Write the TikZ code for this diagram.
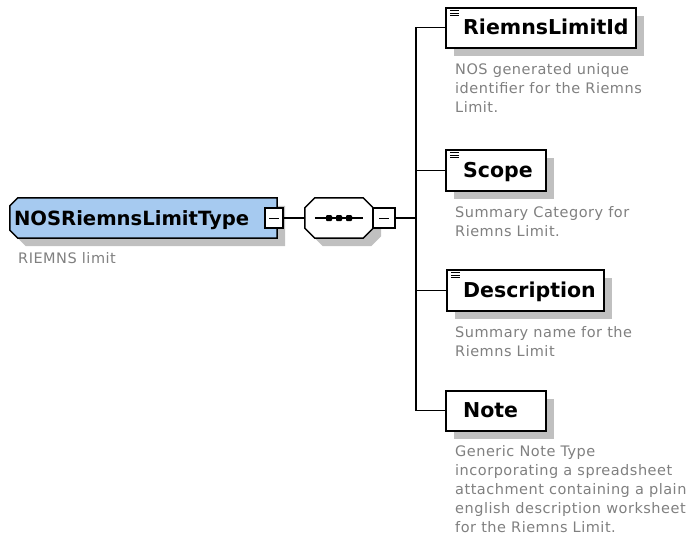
\documentclass[tikz,border=0pt]{standalone}
\usepackage{fontspec}
\setmainfont{DejaVu Sans}
\newfontfamily\descfont[LetterSpace=3.5]{DejaVu Sans}
\usetikzlibrary{shadows}
\definecolor{typeblue}{RGB}{166,202,240}
\definecolor{shadowgray}{RGB}{192,192,192}
\definecolor{descgray}{RGB}{128,128,128}
\begin{document}
\begin{tikzpicture}[x=1pt,y=-1pt,
  shadowed/.style={drop shadow={shadow xshift=8pt,shadow yshift=-8pt,fill=shadowgray,opacity=1}},
  frame/.style={draw=none,fill=none,rectangle,inner sep=0pt},
  elembox/.style={draw=black,line width=1.5pt,fill=white,rectangle,inner sep=0pt,minimum height=40pt,shadowed},
  shapeline/.style={draw=black,line width=1.5pt},
  minusbox/.style={draw=black,line width=1.3pt,fill=white,rectangle,inner sep=0pt,minimum width=18pt,minimum height=20pt},
  conn/.style={draw=black,line width=1.1pt},
  label/.style={inner sep=0pt,font=\fontsize{20.5}{24}\selectfont\bfseries},
  desc/.style={inner sep=0pt,align=left,text=descgray,font=\descfont\fontsize{14.5}{19}\selectfont},
  icon/.style={draw=black,line width=1pt},
  seqdot/.style={fill=black,rounded corners=1pt}
]
\fill[white] (0,0) rectangle (697,555);
\useasboundingbox (0,0) rectangle (697,555);

% complex type
\node[frame,minimum width=267pt,minimum height=40pt] (type) at (143.5,218) {};
\filldraw[shapeline,fill=typeblue,shadowed]
  (type.north east) -- (type.south east) -- ([xshift=8pt]type.south west)
  -- ([yshift=8pt]type.south west) -- ([yshift=-8pt]type.north west)
  -- ([xshift=8pt]type.north west) -- cycle;
\node[label,font=\fontsize{19.6}{24}\selectfont\bfseries,anchor=base west] (typet) at ([xshift=4pt,yshift=-7pt]type.west) {NOSRiemnsLimitType};
\node[minusbox] (tminus) at (274,218) {};
\draw[line width=1pt] ([xshift=-5pt]tminus.center) -- ([xshift=5pt]tminus.center);
\node[desc,anchor=north west] (typed) at (18,252) {RIEMNS limit};

% sequence compositor
\node[frame,minimum width=68pt,minimum height=40pt] (comp) at (339,218) {};
\filldraw[shapeline,fill=white,shadowed]
  ([xshift=10pt]comp.north west) -- ([xshift=-10pt]comp.north east)
  -- ([yshift=-10pt]comp.north east) -- ([yshift=10pt]comp.south east)
  -- ([xshift=-10pt]comp.south east) -- ([xshift=10pt]comp.south west)
  -- ([yshift=10pt]comp.south west) -- ([yshift=-10pt]comp.north west) -- cycle;
\draw[line width=1.1pt] ([xshift=10pt]comp.west) -- ([xshift=-10pt]comp.east);
\foreach \dx in {-10,0,10}
  \path[seqdot] ([shift={(\dx-3,-3)}]comp.center) rectangle ++(6,6);
\node[minusbox,minimum width=22pt] (cminus) at (384,218) {};
\draw[line width=1pt] ([xshift=-5pt]cminus.center) -- ([xshift=5pt]cminus.center);

\coordinate (bus) at (416,218);

% child elements
\node[elembox,minimum width=190pt,anchor=north west] (rl) at (445,7) {};
\node[elembox,minimum width=100pt,minimum height=41pt,anchor=north west] (scope) at (445,149) {};
\node[elembox,minimum width=157pt,minimum height=41pt,anchor=north west] (desc) at (446,269) {};
\node[elembox,minimum width=100pt,anchor=north west] (note) at (445,390) {};

\node[label,anchor=base west] (rlt) at ([xshift=18pt,yshift=-7pt]rl.west) {RiemnsLimitId};
\node[label,anchor=base west] (scopet) at ([xshift=18pt,yshift=-7pt]scope.west) {Scope};
\node[label,anchor=base west] (desct) at ([xshift=17pt,yshift=-7pt]desc.west) {Description};
\node[label,anchor=base west] (notet) at ([xshift=18pt,yshift=-7pt]note.west) {Note};

\foreach \b in {rl,scope,desc}
  \foreach \k in {0,1,2}
    \draw[icon] ([shift={(5,{3.5+2.5*\k})}]\b.north west) -- ++(9,0);

\node[desc,anchor=north west] (rld) at (455,63) {NOS generated unique\\identifier for the Riemns\\Limit.};
\node[desc,anchor=north west] (scoped) at (455,206) {Summary Category for\\Riemns Limit.};
\node[desc,anchor=north west] (descd) at (455,326) {Summary name for the\\Riemns Limit};
\node[desc,anchor=north west] (noted) at (455,445) {Generic Note Type\\incorporating a spreadsheet\\attachment containing a plain\\english description worksheet\\for the Riemns Limit.};

% connectors
\draw[conn] (tminus.east) -- (comp.west);
\draw[conn] (cminus.east) -- (bus);
\draw[conn] (rl.west) -- (rl.west -| bus) -- (note.west -| bus) -- (note.west);
\draw[conn] (scope.west) -- (scope.west -| bus);
\draw[conn] (desc.west) -- (desc.west -| bus);
\end{tikzpicture}
\end{document}
